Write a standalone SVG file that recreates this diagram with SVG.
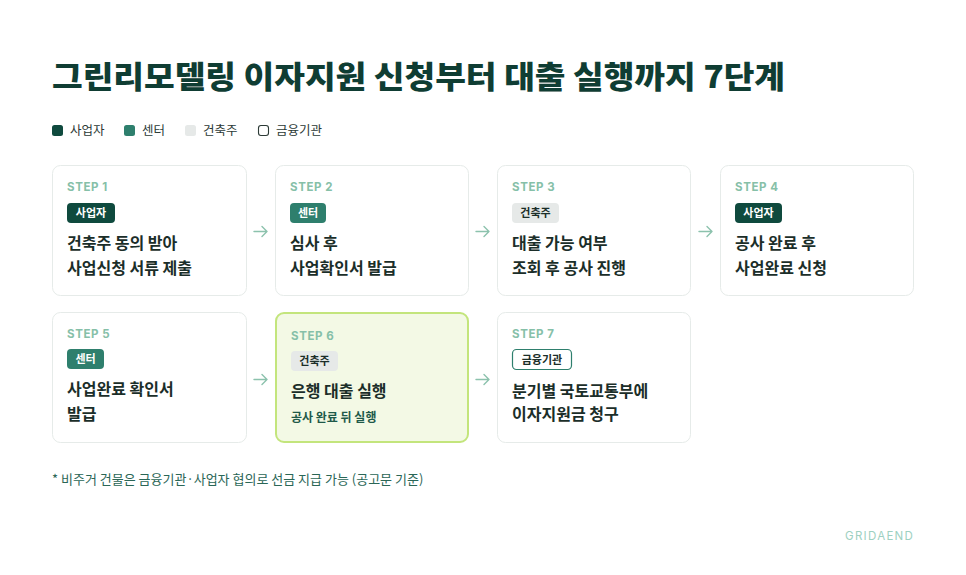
<svg xmlns="http://www.w3.org/2000/svg" width="966" height="575" viewBox="0 0 966 575">
<style>
text{font-family:"Noto Sans CJK KR","Noto Sans",sans-serif}
.title{font-size:31px;font-weight:800;fill:#0f3d33}
.leg{font-size:12.5px;fill:#2c3a36}
.card{fill:#ffffff;stroke:#e6ebe9;stroke-width:1}
.hl{fill:#f3f9e5;stroke:#c3e57c;stroke-width:2}
.step{font-family:"Inter","Liberation Sans",sans-serif;font-size:11.5px;font-weight:700;fill:#86c0a8;letter-spacing:0.6px}
.main{font-size:16px;font-weight:700;fill:#1b2e29}
.sub{font-size:12px;font-weight:700;fill:#1f5a49}
.bt{font-size:11px;font-weight:700;text-anchor:middle}
.b1{fill:#0f4a3e}.b2{fill:#2e7f6d}.b3{fill:#e6e9e8}.b4{fill:#ffffff;stroke:#2e7f6d;stroke-width:1.2}
.w{fill:#ffffff}.d{fill:#1b2e29}
.arr{fill:none;stroke:#8cc2ad;stroke-width:1.4;stroke-linecap:round;stroke-linejoin:round}
.foot{font-size:13px;fill:#2a6656}
.brand{font-family:"Inter","Liberation Sans",sans-serif;font-size:11.5px;fill:#9dd0c1;letter-spacing:1.3px}
</style>
<rect width="966" height="575" fill="#ffffff"/>
<text class="title" x="52" y="88" textLength="733" lengthAdjust="spacingAndGlyphs">그린리모델링 이자지원 신청부터 대출 실행까지 7단계</text>
<g id="legend">
<rect x="52" y="125" width="11" height="11" rx="2.5" class="b1"/><text class="leg" x="70" y="135">사업자</text>
<rect x="124" y="125" width="11" height="11" rx="2.5" class="b2"/><text class="leg" x="142" y="135">센터</text>
<rect x="185" y="125" width="11" height="11" rx="2.5" class="b3"/><text class="leg" x="203" y="135">건축주</text>
<rect x="258.5" y="125.5" width="10" height="10" rx="2.5" fill="#fff" stroke="#2c3a36" stroke-width="1.1"/><text class="leg" x="276" y="135">금융기관</text>
</g>
<g id="step1">
<rect class="card" x="52.5" y="165.5" width="194" height="130" rx="8"/>
<text class="step" x="67" y="191">STEP 1</text>
<rect class="b1" x="67" y="203" width="48" height="20" rx="4"/><text class="bt w" x="91" y="217">사업자</text>
<text class="main" x="67" y="249">건축주 동의 받아</text>
<text class="main" x="67" y="274">사업신청 서류 제출</text>
</g>
<g id="step2">
<rect class="card" x="275.5" y="165.5" width="193" height="130" rx="8"/>
<text class="step" x="290" y="191">STEP 2</text>
<rect class="b2" x="290" y="203" width="36" height="20" rx="4"/><text class="bt w" x="308" y="217">센터</text>
<text class="main" x="290" y="249">심사 후</text>
<text class="main" x="290" y="274">사업확인서 발급</text>
</g>
<g id="step3">
<rect class="card" x="497.5" y="165.5" width="193" height="130" rx="8"/>
<text class="step" x="512" y="191">STEP 3</text>
<rect class="b3" x="512" y="203" width="47" height="20" rx="4"/><text class="bt d" x="535.5" y="217">건축주</text>
<text class="main" x="512" y="249">대출 가능 여부</text>
<text class="main" x="512" y="274">조회 후 공사 진행</text>
</g>
<g id="step4">
<rect class="card" x="720.5" y="165.5" width="193" height="130" rx="8"/>
<text class="step" x="735" y="191">STEP 4</text>
<rect class="b1" x="735" y="203" width="47" height="20" rx="4"/><text class="bt w" x="758.5" y="217">사업자</text>
<text class="main" x="735" y="249">공사 완료 후</text>
<text class="main" x="735" y="274">사업완료 신청</text>
</g>
<g id="step5">
<rect class="card" x="52.5" y="312.5" width="194" height="130" rx="8"/>
<text class="step" x="67" y="338">STEP 5</text>
<rect class="b2" x="67" y="349" width="37" height="20" rx="4"/><text class="bt w" x="85.5" y="363">센터</text>
<text class="main" x="67" y="395">사업완료 확인서</text>
<text class="main" x="67" y="420">발급</text>
</g>
<g id="step6">
<rect class="hl" x="276" y="313" width="192" height="129" rx="8"/>
<text class="step" x="291" y="340">STEP 6</text>
<rect class="b3" x="291" y="351" width="47" height="20" rx="4"/><text class="bt d" x="314.5" y="365">건축주</text>
<text class="main" x="291" y="397">은행 대출 실행</text>
<text class="sub" x="291" y="422">공사 완료 뒤 실행</text>
</g>
<g id="step7">
<rect class="card" x="497.5" y="312.5" width="193" height="130" rx="8"/>
<text class="step" x="512" y="338">STEP 7</text>
<rect class="b4" x="512.5" y="349.5" width="59" height="20" rx="4"/><text class="bt d" x="542" y="364">금융기관</text>
<text class="main" x="512" y="397">분기별 국토교통부에</text>
<text class="main" x="512" y="420">이자지원금 청구</text>
</g>
<g id="connectors">
<path class="arr" d="M254 231.5H267M262 226.5L267 231.5L262 236.5"/>
<path class="arr" d="M476 231.5H489M484 226.5L489 231.5L484 236.5"/>
<path class="arr" d="M699 231.5H712M707 226.5L712 231.5L707 236.5"/>
<path class="arr" d="M254 379.5H267M262 374.5L267 379.5L262 384.5"/>
<path class="arr" d="M476 379.5H489M484 374.5L489 379.5L484 384.5"/>
</g>
<text class="foot" x="52" y="484">* 비주거 건물은 금융기관·사업자 협의로 선금 지급 가능 (공고문 기준)</text>
<text class="brand" x="845" y="540">GRIDAEND</text>
</svg>
